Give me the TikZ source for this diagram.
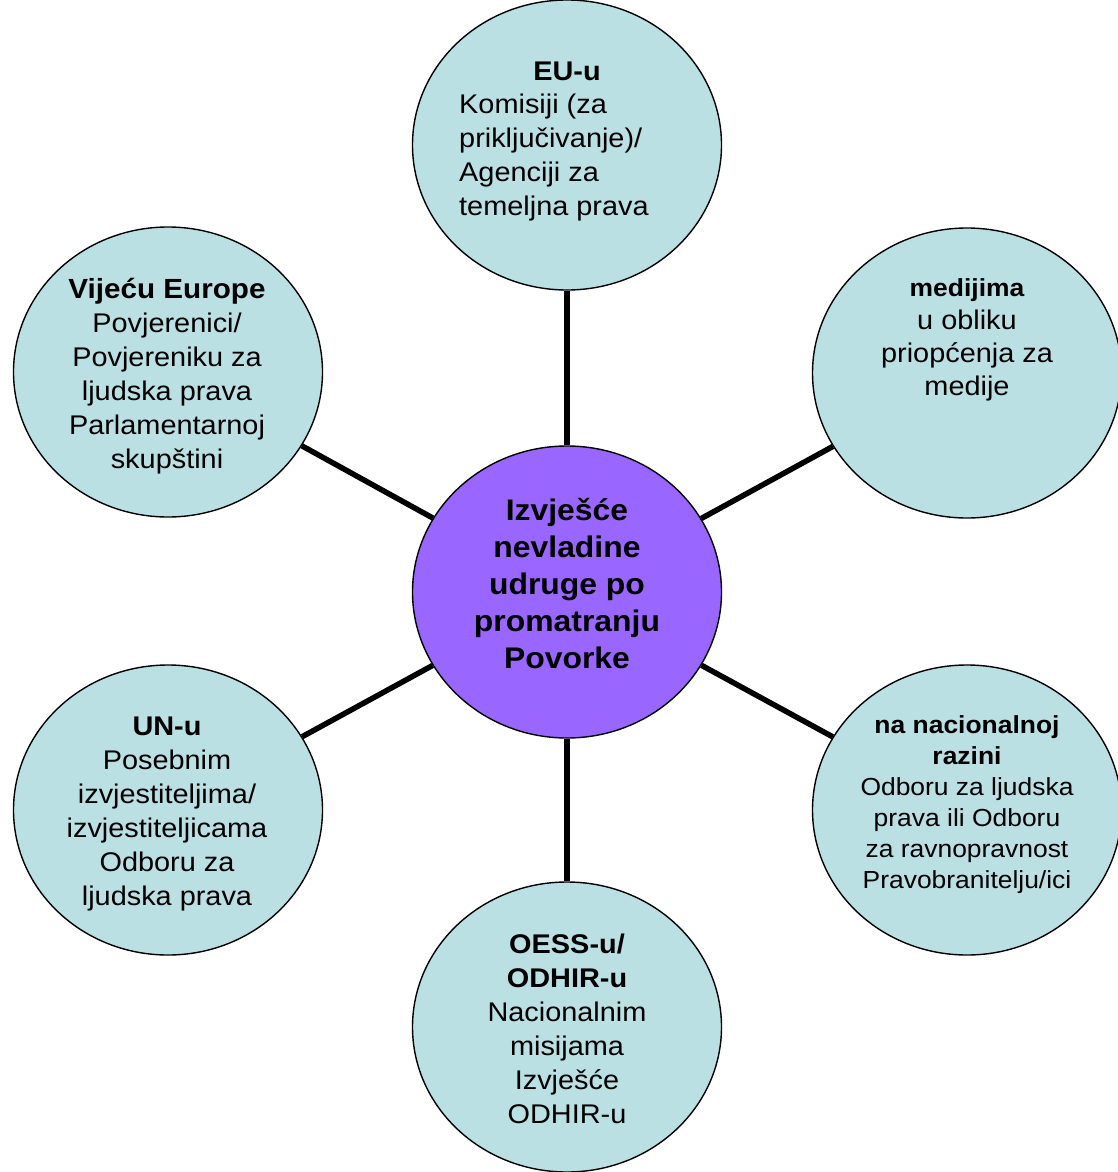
\documentclass[tikz,border=0pt]{standalone}
\usepackage{fontspec}
\setmainfont{Liberation Sans}[FakeStretch=1.07]
\usetikzlibrary{shapes.geometric}
\definecolor{bubble}{RGB}{187,224,227}
\definecolor{hub}{RGB}{153,102,255}
\begin{document}
\begin{tikzpicture}[x=1pt,y=-1pt,
  bubble/.style={ellipse, draw=black, line width=1.4pt, fill=bubble,
    minimum width=309pt, minimum height=290pt, inner sep=0pt},
  hubshape/.style={bubble, fill=hub, minimum height=292pt},
  link/.style={line width=5.5pt, black},
  txt/.style={inner sep=0pt, align=center, font=\fontsize{27}{34}\selectfont},
  smalltxt/.style={txt, font=\fontsize{24.7}{31}\selectfont},
  hubtxt/.style={txt, font=\fontsize{29.8}{37}\selectfont\bfseries}]
\useasboundingbox (0,0) rectangle (1118,1172);

% central report and the six recipients
\node[hubshape] (hub) at (567,592) {};
\node[bubble] (eu)  at (567,145) {};
\node[bubble] (med) at (967,373) {};
\node[bubble] (nat) at (967,810) {};
\node[bubble] (osce) at (567,1027) {};
\node[bubble] (un)  at (168,810) {};
\node[bubble] (coe) at (168,372) {};

% spokes
\foreach \t in {eu,med,nat,osce,un,coe}
  \draw[link] (hub) -- (\t);

% labels
\node[hubtxt] (hubl) at (567,584) {Izvješće\\nevladine\\udruge po\\promatranju\\Povorke};

\node[txt, font=\fontsize{27}{34}\selectfont\bfseries] (eut) at (567,71) {EU-u};
\node[txt, align=left, anchor=west] (eul) at (459,158)
  {Komisiji (za\\priključivanje)/\\Agenciji za\\temeljna prava};

\node[txt, font=\fontsize{27}{33}\selectfont] (medl) at (967,340)
  {{\fontsize{24.7}{33}\selectfont\bfseries medijima}\\u obliku\\priopćenja za\\medije};

\node[smalltxt] (natl) at (967,804.5)
  {\textbf{na nacionalnoj}\\\textbf{razini}\\Odboru za ljudska\\prava ili Odboru\\za ravnopravnost\\Pravobranitelju/ici};

\node[txt] (osl) at (567,1029)
  {\textbf{OESS-u/}\\\textbf{ODHIR-u}\\Nacionalnim\\misijama\\Izvješće\\ODHIR-u};

\node[txt] (unl) at (167,814)
  {\textbf{UN-u}\\Posebnim\\izvjestiteljima/\\izvjestiteljicama\\Odboru za\\ljudska prava};

\node[txt] (coel) at (167,376.5)
  {{\fontsize{27.7}{34}\selectfont\bfseries Vijeću Europe}\\Povjerenici/\\Povjereniku za\\ljudska prava\\Parlamentarnoj\\skupštini};
\end{tikzpicture}
\end{document}
